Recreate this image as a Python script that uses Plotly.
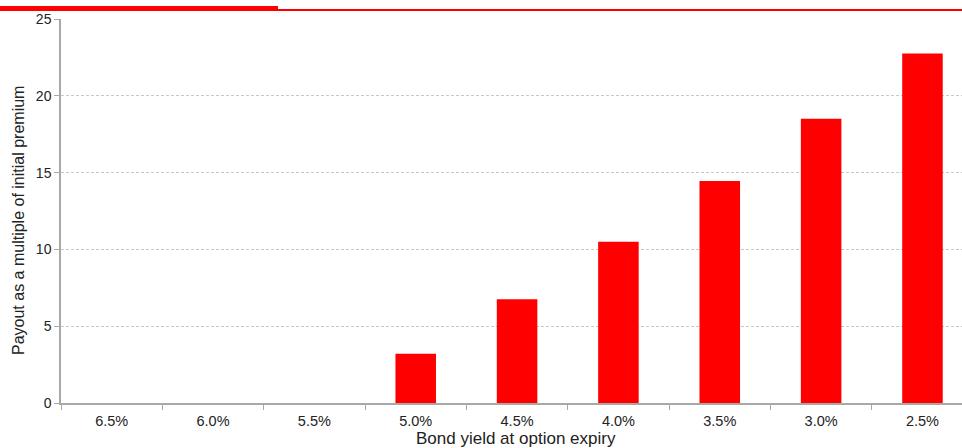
import plotly.graph_objects as go

# Bond yield scenarios at option expiry and the resulting payout multiple
yields = ["6.5%", "6.0%", "5.5%", "5.0%", "4.5%", "4.0%", "3.5%", "3.0%", "2.5%"]
payout = [0, 0, 0, 3.2, 6.75, 10.5, 14.45, 18.5, 22.75]
y_ticks = [0, 5, 10, 15, 20, 25]

W, H = 962, 448
L, R, T, B = 61, 0, 19, 45
pw, ph = W - L - R, H - T - B

fig = go.Figure()
fig.add_trace(go.Bar(
    x=yields,
    y=payout,
    marker=dict(color="#ff0000", line=dict(width=0)),
    width=0.4,
    hoverinfo="x+y",
))

# Red header rules across the top
fig.add_shape(type="line", xref="paper", yref="paper", x0=-L/pw, x1=(278-L)/pw,
              y0=1 + (T - 8.5)/ph, y1=1 + (T - 8.5)/ph, line=dict(color="#ff0000", width=5))
fig.add_shape(type="line", xref="paper", yref="paper", x0=(278-L)/pw, x1=1,
              y0=1 + (T - 10)/ph, y1=1 + (T - 10)/ph, line=dict(color="#ff0000", width=2))

font = "Liberation Sans, Arial, sans-serif"
ink = "#222222"

# Axis titles
fig.add_annotation(text="Bond yield at option expiry", xref="paper", yref="paper",
                   x=(516 - L)/pw, y=-(438 - T - ph)/ph, showarrow=False,
                   xanchor="center", yanchor="middle",
                   font=dict(size=17, family=font, color=ink))
fig.add_annotation(text="Payout as a multiple of initial premium", xref="paper", yref="paper",
                   x=-(L - 18)/pw, y=1 - (221 - T)/ph, showarrow=False, textangle=-90,
                   xanchor="center", yanchor="middle",
                   font=dict(size=16, family=font, color=ink))

fig.update_layout(
    width=W, height=H,
    margin=dict(l=L, r=R, t=T, b=B),
    paper_bgcolor="white", plot_bgcolor="white",
    showlegend=False,
    font=dict(family=font, color=ink, size=14),
    xaxis=dict(
        type="category",
        range=[-0.5, 8.39],
        tickson="boundaries",
        showgrid=False, zeroline=False,
        showline=True, linecolor="#a8a8a8", linewidth=1.5,
        ticks="outside", ticklen=5, tickcolor="#a8a8a8",
        ticklabelstandoff=4,
        tickfont=dict(size=14.5, family=font, color=ink),
    ),
    yaxis=dict(
        range=[0, 25], tickvals=y_ticks,
        showgrid=True, gridcolor="#c8c8c8", griddash="3px,2px", gridwidth=1,
        zeroline=False,
        showline=True, linecolor="#a8a8a8", linewidth=1.5,
        ticks="outside", ticklen=5, tickcolor="#a8a8a8",
        tickfont=dict(size=14, family=font, color=ink),
    ),
)

fig.write_html("out.html")
